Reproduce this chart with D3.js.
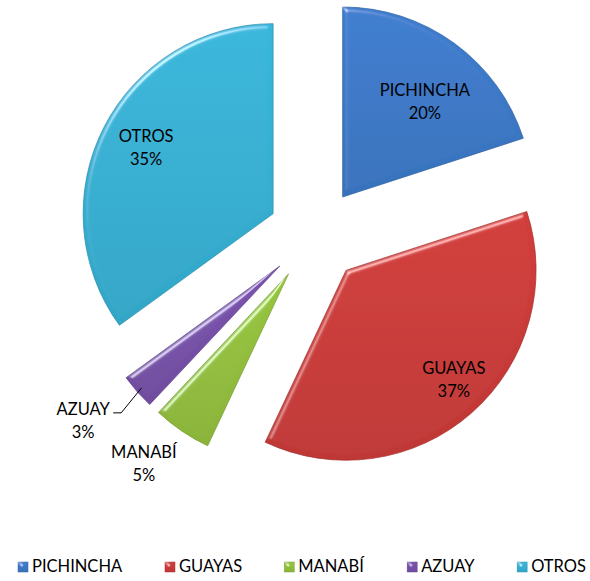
<!DOCTYPE html>
<html>
<head>
<meta charset="utf-8">
<script src="https://cdnjs.cloudflare.com/ajax/libs/d3/7.8.5/d3.min.js"></script>
<style>
  body { margin: 0; background: #fff; }
  svg text { font-family: Lato, "Open Sans", sans-serif; font-size: 16.5px; fill: #000; }
</style>
</head>
<body>
<div id="chart"></div>
<script>
// --------- DATA ---------
const categories = ["PICHINCHA", "GUAYAS", "MANABÍ", "AZUAY", "OTROS"];
const values = [20, 37, 5, 3, 35];
const labels = ["20%", "37%", "5%", "3%", "35%"];
const colors = ["#3b78c6", "#c93a38", "#92be3c", "#7650a8", "#35afd2"];

// label placement from the slice tip (office "best fit" look): distance in radii, turn in degrees
const labelDist = [0.66, 0.81, 1.26, 1.32, 0.75];
const labelTurn = [5, -3, 3, 3, 0];

// --------- CHART ---------
let width = 590, height = 581;
let cx = 315, cy = 235, radius = 190, explode = 47;

let svg = d3.select("#chart")
    .append("svg")
    .attr("width", width)
    .attr("height", height);

let defs = svg.append("defs");

// bevel look, like the office 3D slices
let bevel = defs.append("filter")
    .attr("id", "bevel")
    .attr("x", "-10%").attr("y", "-10%")
    .attr("width", "120%").attr("height", "120%");
bevel.append("feGaussianBlur")
    .attr("in", "SourceAlpha").attr("stdDeviation", 2.5).attr("result", "blur");
bevel.append("feSpecularLighting")
    .attr("in", "blur").attr("surfaceScale", 4).attr("specularConstant", 0.7)
    .attr("specularExponent", 30).attr("lighting-color", "#ffffff").attr("result", "spec")
    .append("feDistantLight").attr("azimuth", 235).attr("elevation", 30);
bevel.append("feComposite")
    .attr("in", "spec").attr("in2", "SourceAlpha").attr("operator", "in").attr("result", "specIn");
bevel.append("feComposite")
    .attr("in", "SourceGraphic").attr("in2", "specIn").attr("operator", "arithmetic")
    .attr("k1", 0).attr("k2", 1).attr("k3", 0.8).attr("k4", 0);

colors.forEach((c, i) => {
    let g = defs.append("linearGradient")
        .attr("id", "grad" + i)
        .attr("x1", 0).attr("y1", 0).attr("x2", 0).attr("y2", 1);
    g.append("stop").attr("offset", "0%").attr("stop-color", d3.color(c).brighter(0.12));
    g.append("stop").attr("offset", "100%").attr("stop-color", d3.color(c).darker(0.15));
});

let pie = d3.pie().sort(null).value(d => d);
let arcs = pie(values);

let arc = d3.arc().innerRadius(0).outerRadius(radius);

let mid = d => (d.startAngle + d.endAngle) / 2;
let polar = (a, dist) => [Math.sin(a) * dist, -Math.cos(a) * dist];
let offset = (d, dist) => polar(mid(d), dist);

let graph = svg.append("g")
    .attr("transform", "translate(" + cx + "," + cy + ")");

let slices = graph.selectAll("g.slice")
    .data(arcs)
    .enter().append("g")
    .attr("class", "slice")
    .attr("transform", d => "translate(" + offset(d, explode) + ")");

slices.append("path")
    .attr("d", arc)
    .attr("fill", (d, i) => "url(#grad" + i + ")")
    .attr("stroke", (d, i) => d3.color(colors[i]).darker(0.6))
    .attr("stroke-width", 0.7)
    .attr("filter", "url(#bevel)");

// labels: big slices inside, small ones outside
let lineH = 23;
arcs.forEach((d, i) => {
    let o = offset(d, explode);
    let p = polar(mid(d) + labelTurn[i] * Math.PI / 180, radius * labelDist[i]);
    let pos = [o[0] + p[0], o[1] + p[1]];
    let t = graph.append("text")
        .attr("text-anchor", "middle")
        .attr("transform", "translate(" + pos + ")");
    t.append("tspan").attr("x", 0).attr("y", -lineH / 2 + 5).text(categories[i]);
    t.append("tspan").attr("x", 0).attr("y", lineH / 2 + 5).text(labels[i]);

    // leader line for the thinnest slice
    if (values[i] < 4) {
        let edge = [o[0] + Math.sin(mid(d)) * radius * 0.97, o[1] - Math.cos(mid(d)) * radius * 0.97];
        let tw = t.node().getBBox().width;
        let start = [pos[0] + tw / 2 + 3, pos[1] - 9];
        graph.append("path")
            .attr("fill", "none")
            .attr("stroke", "#000")
            .attr("stroke-width", 1)
            .attr("d", d3.line()([start, [start[0] + 8, start[1]], edge]));
    }
});

// --------- LEGEND ---------
let legend = svg.append("g").attr("class", "legend");
let items = legend.selectAll("g")
    .data(categories)
    .enter().append("g");

items.append("rect")
    .attr("width", 10).attr("height", 10)
    .attr("y", -5)
    .attr("fill", (d, i) => "url(#grad" + i + ")")
    .attr("stroke", (d, i) => d3.color(colors[i]).darker(0.5))
    .attr("stroke-width", 0.5)
    .attr("filter", "url(#bevel)");

items.append("text")
    .attr("x", 14)
    .attr("y", 1)
    .attr("dominant-baseline", "middle")
    .text(d => d);

let gap = 42, xPos = 0, ws = [];
items.each(function() { ws.push(this.getBBox().width); });
let total = d3.sum(ws) + gap * (ws.length - 1);
xPos = 302 - total / 2;
items.attr("transform", (d, i) => {
    let x = xPos;
    xPos += ws[i] + gap;
    return "translate(" + x + ",567)";
});
</script>
</body>
</html>
